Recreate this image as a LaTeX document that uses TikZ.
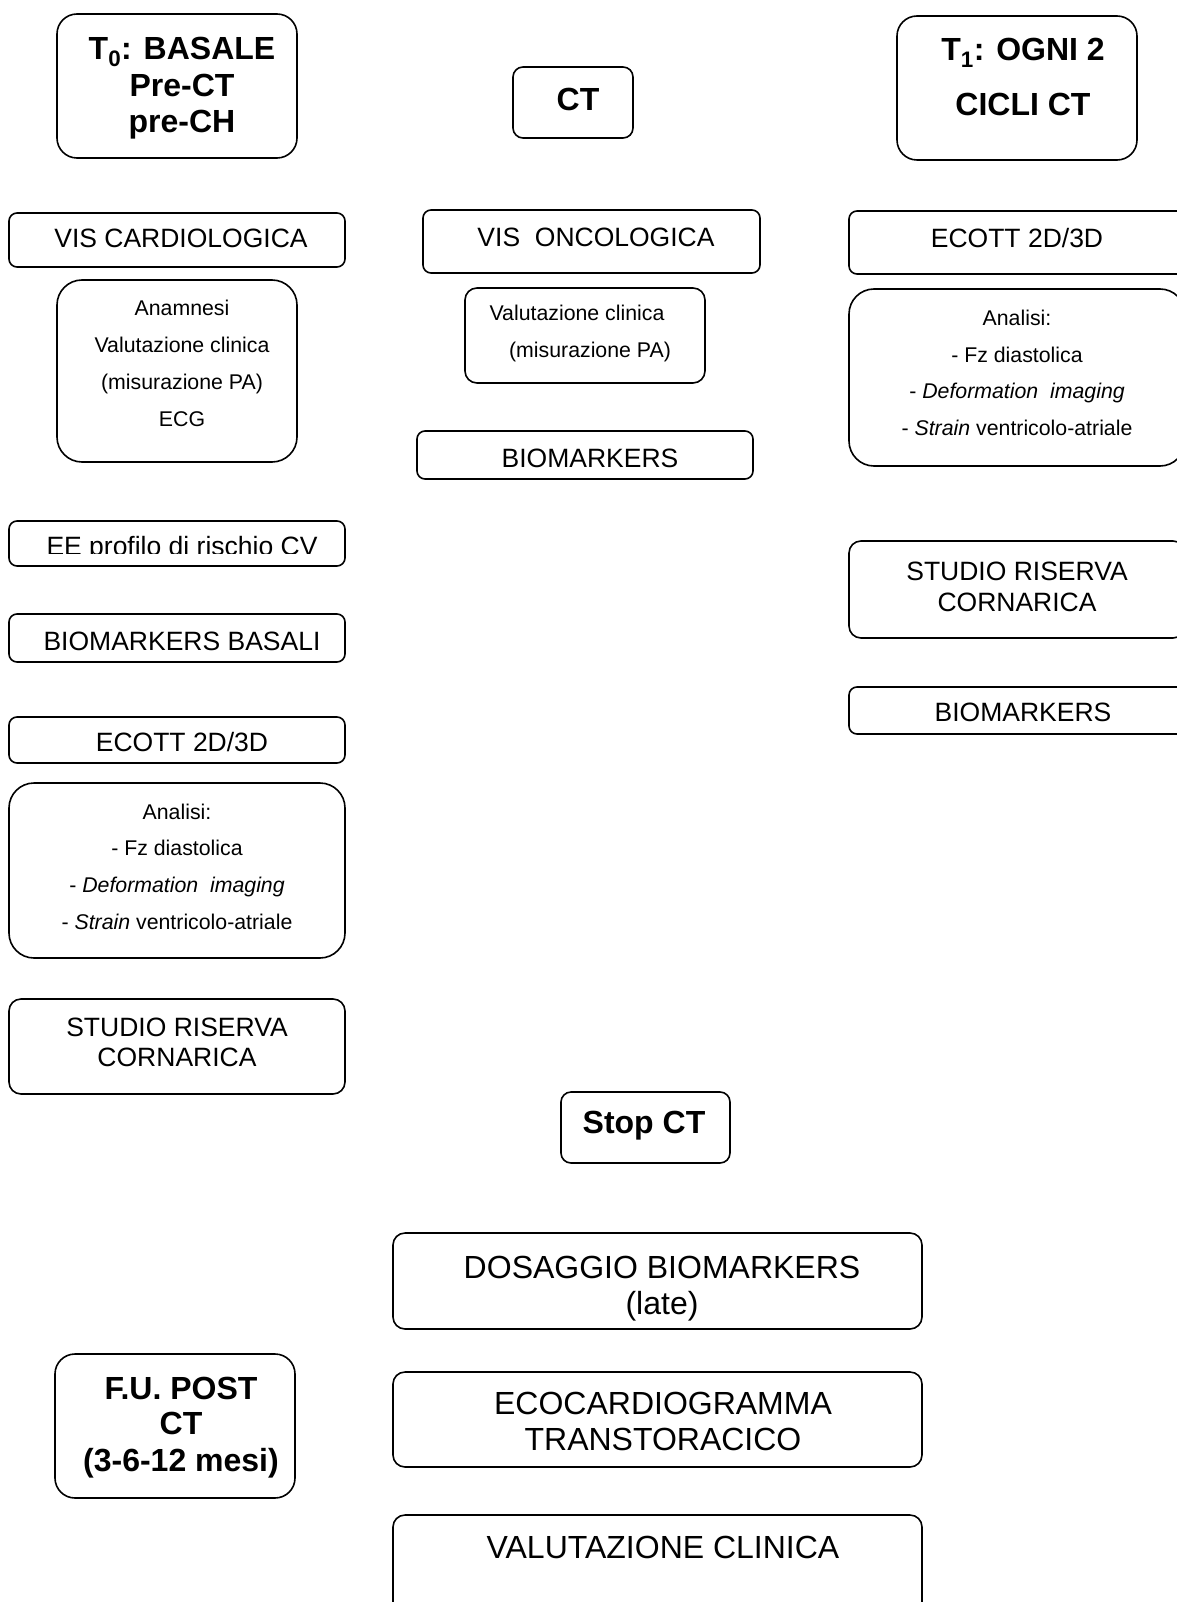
\documentclass[tikz,border=0pt]{standalone}
\usepackage{fontspec}
\setmainfont{Liberation Sans}
\newcommand\mybox[6]{\node[box,rounded corners=#6pt,minimum width={(#4-#2)*1pt},minimum height={(#5-#3)*1pt}] (#1) at ({(#2+#4)/2},{(#3+#5)/2}) {};}
\newcommand\myline[5]{\node[#2,anchor=base] (#1) at (#3,#4) {#5};}
\begin{document}
\begin{tikzpicture}[x=1pt,y=-1pt,
  box/.style={draw=black,line width=1.6pt,inner sep=0pt,fill=none},
  tA/.style={inner sep=0pt,font=\fontsize{32}{36}\selectfont\bfseries},
  tB/.style={inner sep=0pt,font=\fontsize{26.5}{30}\selectfont},
  tC/.style={inner sep=0pt,font=\fontsize{21.3}{25}\selectfont},
  tD/.style={inner sep=0pt,font=\fontsize{32}{36}\selectfont}]
\useasboundingbox[fill=white] (0,0) rectangle (1176,1602);
% boxes
\mybox{t0}{57}{14}{297}{158}{20}
\mybox{ct}{513}{67}{633}{138}{10}
\mybox{t1}{897}{16}{1137}{160}{20}
\mybox{viscard}{9}{213}{345}{267}{8}
\mybox{visonc}{423}{210}{760}{273}{8}
\mybox{ecottr}{849}{211}{1185}{274}{8}
\mybox{anam}{57}{280}{297}{462}{25}
\mybox{valc}{465}{288}{705}{383}{12}
\mybox{analr}{849}{289}{1185}{466}{25}
\mybox{bioc}{417}{431}{753}{479}{8}
\mybox{ee}{9}{521}{345}{566}{8}
\mybox{studior}{849}{541}{1185}{638}{12}
\mybox{bb}{9}{614}{345}{662}{8}
\mybox{bior}{849}{687}{1185}{734}{8}
\mybox{ecottl}{9}{717}{345}{763}{8}
\mybox{anall}{9}{783}{345}{958}{25}
\mybox{studiol}{9}{999}{345}{1094}{12}
\mybox{stop}{561}{1092}{730}{1163}{10}
\mybox{dos}{393}{1233}{922}{1329}{12}
\mybox{fu}{55}{1354}{295}{1498}{20}
\mybox{eco}{393}{1372}{922}{1467}{12}
\mybox{val}{393}{1515}{922}{1640}{12}
% titles
\myline{t0a}{tA}{182}{59.5}{T\textsubscript{0}: BASALE}
\myline{t0b}{tA}{182}{96.5}{Pre-CT}
\myline{t0c}{tA}{182}{132.5}{pre-CH}
\myline{cta}{tA}{578}{110.5}{CT}
\myline{t1a}{tA}{1023}{60.5}{T\textsubscript{1}: OGNI 2}
\myline{t1b}{tA}{1023}{115.5}{CICLI CT}
\myline{stopa}{tA}{644}{1133.5}{Stop CT}
\myline{fua}{tA}{181}{1399}{F.U. POST}
\myline{fub}{tA}{181}{1434.5}{CT}
\myline{fuc}{tA}{181}{1471.5}{(3-6-12 mesi)}
% medium
\myline{viscarda}{tB}{181}{247.3}{VIS CARDIOLOGICA}
\myline{visonca}{tB}{596}{246.3}{VIS\ \ ONCOLOGICA}
\myline{ecottra}{tB}{1017}{247.3}{ECOTT 2D/3D}
\myline{bioca}{tB}{590}{467.3}{BIOMARKERS}
\begin{scope}
\clip (9,521) rectangle (345,553.5);
\myline{eea}{tB}{182}{555}{EE profilo di rischio CV}
\end{scope}
\myline{bba}{tB}{182}{650}{BIOMARKERS BASALI}
\myline{ecottla}{tB}{182}{751}{ECOTT 2D/3D}
\myline{studiola}{tB}{177}{1036.3}{STUDIO RISERVA}
\myline{studiolb}{tB}{177}{1066.8}{CORNARICA}
\myline{studiora}{tB}{1017}{580.3}{STUDIO RISERVA}
\myline{studiorb}{tB}{1017}{611.3}{CORNARICA}
\myline{biora}{tB}{1023}{721.3}{BIOMARKERS}
% small
\myline{anama}{tC}{182}{316}{Anamnesi}
\myline{anamb}{tC}{182}{352.5}{Valutazione clinica}
\myline{anamc}{tC}{182}{389.5}{(misurazione PA)}
\myline{anamd}{tC}{182}{426.5}{ECG}
\myline{valca}{tC}{577}{320.5}{Valutazione clinica}
\myline{valcb}{tC}{590}{357}{(misurazione PA)}
\myline{analra}{tC}{1017}{325.5}{Analisi:}
\myline{analrb}{tC}{1017}{362}{- Fz diastolica}
\myline{analrc}{tC}{1017}{398.5}{- \textit{Deformation\ \ imaging}}
\myline{analrd}{tC}{1017}{435.5}{- \textit{Strain} ventricolo-atriale}
\myline{anala}{tC}{177}{819.5}{Analisi:}
\myline{analb}{tC}{177}{855.5}{- Fz diastolica}
\myline{analc}{tC}{177}{892.5}{- \textit{Deformation\ \ imaging}}
\myline{anald}{tC}{177}{929}{- \textit{Strain} ventricolo-atriale}
% large
\myline{dosa}{tD}{662}{1278.5}{DOSAGGIO BIOMARKERS}
\myline{dosb}{tD}{662}{1314.5}{(late)}
\myline{ecoa}{tD}{663}{1414.5}{ECOCARDIOGRAMMA}
\myline{ecob}{tD}{663}{1450}{TRANSTORACICO}
\myline{vala}{tD}{663}{1558.5}{VALUTAZIONE CLINICA}
\end{tikzpicture}
\end{document}
